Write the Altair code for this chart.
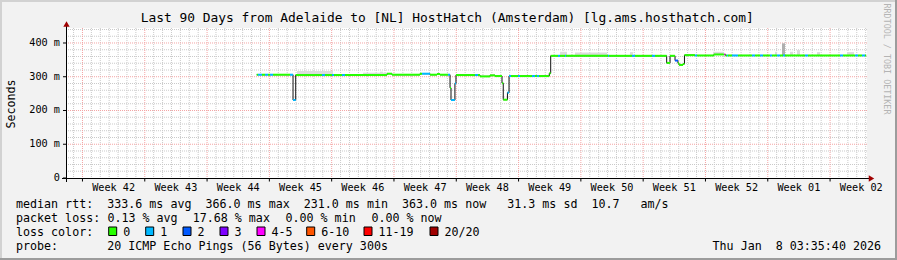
import altair as alt
import pandas as pd

FONT = "DejaVu Sans Mono"
W, H = 801, 150            # plot area (rrdtool canvas)
PAD_L, PAD_T = 66, 28

START = pd.Timestamp("2025-10-10 03:35:40")
END = pd.Timestamp("2026-01-08 03:35:40")
Y_MAX = 444.4

# ---- median RTT, as segments: start (days into the 90-day window), ms, lost pings (of 20)
seg_day = [21.43, 21.57, 22.02, 22.36, 22.70, 22.92, 23.26, 25.17, 25.51, 25.81,
           28.76, 29.10, 29.89, 30.11, 31.01, 31.35, 36.07, 36.63, 39.78, 40.00,
           40.90, 41.69, 42.02, 42.92, 43.15, 43.26, 43.70, 43.82, 45.96, 46.29,
           46.52, 47.64, 48.20, 48.99, 49.13, 49.60, 49.78, 50.00, 50.79, 51.01,
           52.36, 52.70, 52.92, 53.15, 54.30, 54.46, 55.28, 55.51, 56.07, 56.18,
           60.90, 61.01, 63.60, 63.93, 65.84, 66.18, 67.49, 67.87, 68.43, 68.76,
           68.88, 69.33, 69.49, 70.67, 70.90, 72.80, 73.97, 74.10, 74.27, 74.38,
           74.83, 75.51, 77.08, 77.42, 77.98, 78.31, 79.10, 79.33, 79.89, 80.22,
           80.56, 80.79, 83.03, 83.37, 86.97, 87.30, 88.65, 88.99, 89.44, 89.78]
seg_ms = [306, 306, 306, 306, 306, 306, 306, 306, 231, 305,
          305, 305, 305, 305, 305, 305, 309, 306, 309, 309,
          306, 308, 306, 306, 267, 231, 280, 305, 305, 305,
          301, 304, 302, 281, 232, 253, 302, 302, 302, 302,
          302, 302, 302, 302, 310, 362, 362, 362, 362, 362,
          362, 362, 362, 362, 362, 362, 341, 362, 348, 340,
          335, 338, 364, 363, 363, 366, 366, 363, 363, 363,
          363, 363, 363, 363, 363, 363, 363, 363, 363, 363,
          363, 363, 363, 363, 363, 363, 363, 363, 363, 363]
seg_loss = [0, 1, 0, 1, 0, 1, 0, 1, 1, 0,
            1, 0, 1, 0, 1, 0, 0, 0, 0, 1,
            0, 0, 0, 1, 0, 1, 1, 0, 1, 0,
            0, 0, 0, 0, 0, 1, 1, 0, 1, 0,
            1, 0, 1, 0, 0, 0, 1, 0, 1, 0,
            1, 0, 1, 0, 1, 0, 0, 0, 2, 0,
            0, 0, 0, 1, 0, 0, 4, 0, 1, 0,
            1, 0, 1, 0, 1, 0, 1, 0, 1, 0,
            1, 0, 1, 0, 1, 0, 1, 0, 1, 0]
DATA_END_DAY = 89.90

# ---- smoke (spread of the 20 pings) visible above the median
smoke_start = [25.96, 33.37, 35.28, 47.64, 55.51, 57.19, 63.37, 72.70, 79.66, 80.45, 81.35, 82.13, 84.38, 87.75]
smoke_end = [30.00, 36.07, 35.62, 48.20, 56.29, 60.79, 63.71, 73.82, 79.89, 80.79, 81.69, 82.47, 84.72, 88.54]
smoke_low = [306, 306, 306, 303, 363, 363, 363, 366, 364, 364, 364, 364, 364, 364]
smoke_high = [317, 312, 315, 308, 374, 372, 373, 374, 374, 399, 374, 379, 373, 373]

# ---- loss colour classes
loss_labels = ["0", "1", "2", "3", "4-5", "6-10", "11-19", "20/20"]
loss_upper = [0, 1, 2, 3, 5, 10, 19, 20]
loss_colors = ["#26ff00", "#00b8ff", "#0059ff", "#7e00ff", "#ff00ff", "#ff5500", "#ff0000", "#a00000"]

# ---- axes
week_labels = ["Week 42", "Week 43", "Week 44", "Week 45", "Week 46", "Week 47", "Week 48",
               "Week 49", "Week 50", "Week 51", "Week 52", "Week 01", "Week 02"]
week_label_at = ["2025-10-15 12:00", "2025-10-22 12:00", "2025-10-29 12:00", "2025-11-05 12:00",
                 "2025-11-12 12:00", "2025-11-19 12:00", "2025-11-26 12:00", "2025-12-03 12:00",
                 "2025-12-10 12:00", "2025-12-17 12:00", "2025-12-24 12:00", "2025-12-31 12:00",
                 "2026-01-07 12:00"]
y_tick_values = [0, 100, 200, 300, 400]
y_tick_labels = ["0  ", "100 m", "200 m", "300 m", "400 m"]
y_minor_values = [20, 40, 60, 80, 120, 140, 160, 180, 220, 240, 260, 280, 320, 340, 360, 380, 420, 440]

title_text = "Last 90 Days from Adelaide to [NL] HostHatch (Amsterdam) [lg.ams.hosthatch.com]"
rtt_row = "median rtt:  333.6 ms avg  366.0 ms max  231.0 ms min  363.0 ms now   31.3 ms sd  10.7   am/s"
loss_row_parts = ["packet loss:", "0.13 % avg", "17.68 % max", "0.00 % min", "0.00 % now"]
loss_row_x = [16, 107.4, 192.7, 285.5, 371.4]
color_row = "loss color:"
probe_row = "probe:       20 ICMP Echo Pings (56 Bytes) every 300s"
stamp_text = "Thu Jan  8 03:35:40 2026"
watermark = "RRDTOOL / TOBI OETIKER"


def nb(s):
    return s.replace(" ", "\u00a0")


def ts(d):
    return START + pd.to_timedelta(d, unit="D")


def loss_class(n):
    for lab, up in zip(loss_labels, loss_upper):
        if n <= up:
            return lab
    return loss_labels[-1]


seg_end = seg_day[1:] + [DATA_END_DAY]
seg_df = pd.DataFrame({
    "t": [ts(d) for d in seg_day],
    "t2": [ts(d) for d in seg_end],
    "ms": seg_ms,
    "cls": [loss_class(n) for n in seg_loss],
})
line_df = pd.DataFrame({
    "t": [ts(d) for d in seg_day] + [ts(DATA_END_DAY)],
    "ms": seg_ms + [seg_ms[-1]],
})
smoke_df = pd.DataFrame({
    "t": [ts(d) for d in smoke_start],
    "t2": [ts(d) for d in smoke_end],
    "lo": smoke_low,
    "hi": smoke_high,
})
smoke_df["shade"] = ["dense" if h - l > 25 else "light" for h, l in zip(smoke_high, smoke_low)]

days = pd.date_range("2025-10-11 00:00", "2026-01-08 00:00", freq="D")
minor_days = pd.DataFrame({"t": [d for d in days if d.dayofweek != 6]})
major_days = pd.DataFrame({"t": [d for d in days if d.dayofweek == 6]})
ymin_df = pd.DataFrame({"v": y_minor_values})
ymaj_df = pd.DataFrame({"v": y_tick_values[1:]})
ytick_df = pd.DataFrame({"v": y_tick_values, "lab": [nb(s) for s in y_tick_labels]})
week_df = pd.DataFrame({"t": pd.to_datetime(week_label_at), "lab": [nb(s) for s in week_labels]})

xs = alt.Scale(domain=[alt.DateTime(year=2025, month=10, date=10, hours=3, minutes=35, seconds=40),
                       alt.DateTime(year=2026, month=1, date=8, hours=3, minutes=35, seconds=40)],
               nice=False)
ys = alt.Scale(domain=[0, Y_MAX], nice=False, zero=False)

X = alt.X("t:T", scale=xs, axis=None)
X2 = alt.X2("t2:T")
one = pd.DataFrame({"a": [0]})

MINOR = "#cacaca"
MAJOR = "#f4a4a4"
layers = []

# grid
layers.append(alt.Chart(minor_days).mark_rule(color=MINOR, strokeWidth=1, strokeDash=[1, 1]).encode(
    x=X, y=alt.value(0), y2=alt.value(H)))
layers.append(alt.Chart(ymin_df).mark_rule(color=MINOR, strokeWidth=1, strokeDash=[1, 1]).encode(
    y=alt.Y("v:Q", scale=ys, axis=None), x=alt.value(0), x2=alt.value(W)))
layers.append(alt.Chart(major_days).mark_rule(color=MAJOR, strokeWidth=1, strokeDash=[1, 1]).encode(
    x=X, y=alt.value(0), y2=alt.value(H)))
layers.append(alt.Chart(ymaj_df).mark_rule(color=MAJOR, strokeWidth=1, strokeDash=[1, 1]).encode(
    y=alt.Y("v:Q", scale=ys, axis=None), x=alt.value(0), x2=alt.value(W)))

# smoke
layers.append(alt.Chart(smoke_df).mark_rect().encode(
    x=X, x2=X2, y=alt.Y("lo:Q", scale=ys, axis=None), y2="hi:Q",
    color=alt.Color("shade:N", scale=alt.Scale(domain=["light", "dense"], range=["#dcdcdc", "#b0b0b0"]),
                    legend=None)))

# median: black step line + loss-coloured segments
layers.append(alt.Chart(line_df).mark_line(interpolate="step-after", color="#111111", strokeWidth=1).encode(
    x=X, y=alt.Y("ms:Q", scale=ys, axis=None)))
layers.append(alt.Chart(seg_df).mark_rule(strokeWidth=2).encode(
    x=X, x2=X2, y=alt.Y("ms:Q", scale=ys, axis=None),
    stroke=alt.Stroke("cls:N", scale=alt.Scale(domain=loss_labels, range=loss_colors), legend=None)))

# axes lines, ticks, arrows
layers.append(alt.Chart(one).mark_rule(color="black", strokeWidth=1).encode(
    x=alt.value(-4), x2=alt.value(803), y=alt.value(H + 0.5)))
layers.append(alt.Chart(one).mark_rule(color="black", strokeWidth=1).encode(
    x=alt.value(0.5), y=alt.value(-3), y2=alt.value(H + 4)))
layers.append(alt.Chart(major_days).mark_rule(color="black", strokeWidth=1).encode(
    x=X, y=alt.value(H), y2=alt.value(H + 3.5)))
layers.append(alt.Chart(ytick_df).mark_rule(color="black", strokeWidth=1).encode(
    y=alt.Y("v:Q", scale=ys, axis=None), x=alt.value(-3), x2=alt.value(0.5)))
layers.append(alt.Chart(one).mark_point(shape="triangle-up", filled=True, size=40, color="#a00000", opacity=1).encode(
    x=alt.value(0.5), y=alt.value(-4)))
layers.append(alt.Chart(one).mark_point(shape="triangle-right", filled=True, size=40, color="#a00000", opacity=1).encode(
    x=alt.value(805.5), y=alt.value(H + 0.5)))

# axis labels
layers.append(alt.Chart(week_df).mark_text(font=FONT, fontSize=10.2, align="center", baseline="alphabetic",
                                           color="black").encode(
    x=X, y=alt.value(163), text="lab:N"))
layers.append(alt.Chart(ytick_df).mark_text(font=FONT, fontSize=10.2, align="right", baseline="middle",
                                            color="black").encode(
    y=alt.Y("v:Q", scale=ys, axis=None), x=alt.value(-6), text="lab:N"))


def label(text, x, y, size, align="left", angle=0, color="black", baseline="alphabetic"):
    return alt.Chart(pd.DataFrame({"s": [nb(text)]})).mark_text(
        font=FONT, fontSize=size, align=align, angle=angle, color=color, baseline=baseline).encode(
        x=alt.value(x), y=alt.value(y), text="s:N")


LEG = 11.67
layers.append(label(title_text, 447.2 - PAD_L, 22.3 - PAD_T, 12.9, align="center"))
layers.append(label("Seconds", 10.5 - PAD_L, 104 - PAD_T, LEG, align="center", angle=270, baseline="middle"))
layers.append(label(watermark, 886.5 - PAD_L, 59 - PAD_T, 8.4, align="center", angle=90, color="#b4b4b4",
                    baseline="middle"))
layers.append(label(rtt_row, 16 - PAD_L, 207.5 - PAD_T, LEG))
for part, px in zip(loss_row_parts, loss_row_x):
    layers.append(label(part, px - PAD_L, 221.5 - PAD_T, LEG))
layers.append(label(color_row, 16 - PAD_L, 235.5 - PAD_T, LEG))
layers.append(label(probe_row, 16 - PAD_L, 249.5 - PAD_T, LEG))
layers.append(label(stamp_text, 881 - PAD_L, 249.5 - PAD_T, LEG, align="right"))

# loss colour boxes
box_left = [108.7, 145.7, 183, 220, 257, 306.7, 364, 430]
for bx, lab, col in zip(box_left, loss_labels, loss_colors):
    layers.append(alt.Chart(one).mark_rect(color=col, stroke="black", strokeWidth=1).encode(
        x=alt.value(bx - PAD_L), x2=alt.value(bx + 8 - PAD_L),
        y=alt.value(227 - PAD_T), y2=alt.value(235.5 - PAD_T)))
    layers.append(label(lab, bx + 14.5 - PAD_L, 235.5 - PAD_T, LEG))

# 3D frame
layers.append(alt.Chart(one).mark_rule(color="#d2d2d2", strokeWidth=2).encode(
    x=alt.value(-PAD_L), x2=alt.value(897 - PAD_L), y=alt.value(1 - PAD_T)))
layers.append(alt.Chart(one).mark_rule(color="#d2d2d2", strokeWidth=2).encode(
    x=alt.value(1 - PAD_L), y=alt.value(-PAD_T), y2=alt.value(260 - PAD_T)))
layers.append(alt.Chart(one).mark_rule(color="#9c9c9c", strokeWidth=2).encode(
    x=alt.value(-PAD_L), x2=alt.value(897 - PAD_L), y=alt.value(259 - PAD_T)))
layers.append(alt.Chart(one).mark_rule(color="#9c9c9c", strokeWidth=2).encode(
    x=alt.value(896 - PAD_L), y=alt.value(-PAD_T), y2=alt.value(260 - PAD_T)))

chart = alt.layer(*layers).resolve_scale(color="independent", stroke="independent").properties(
    width=W, height=H, background="#f2f2f2",
    padding={"left": PAD_L, "top": PAD_T, "right": 897 - PAD_L - W, "bottom": 260 - PAD_T - H},
    autosize=alt.AutoSizeParams(type="none"),
).configure_view(fill="white", stroke=None)

chart.save("out.html", embed_options={"renderer": "svg", "actions": False})
